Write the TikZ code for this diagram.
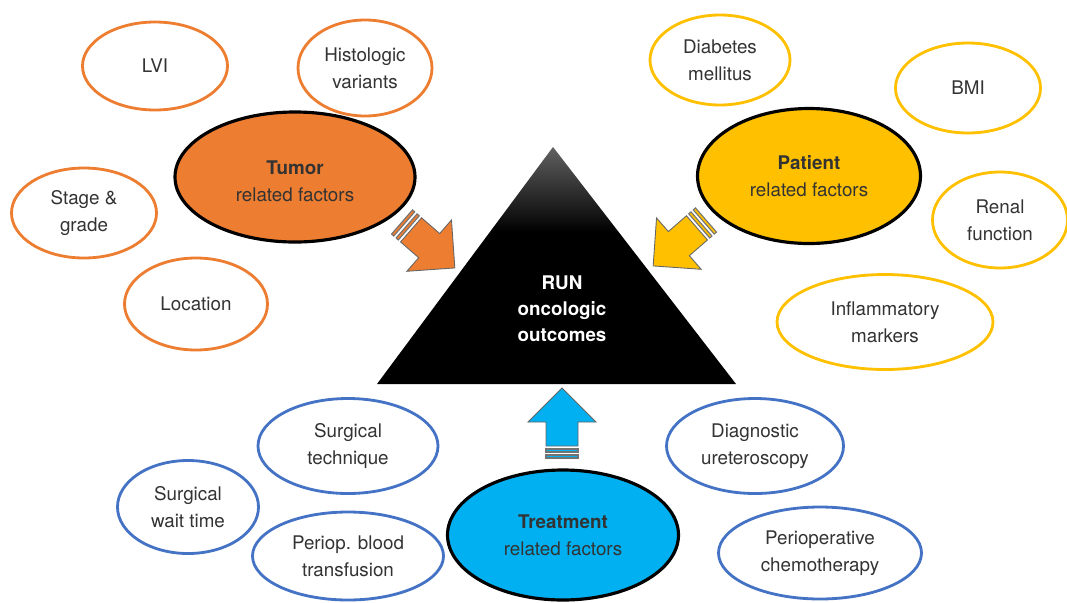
\documentclass[tikz,border=0pt]{standalone}
\usepackage{fontspec}
\setmainfont{TeX Gyre Heros}
\usepackage{tikz}
\usetikzlibrary{shapes.geometric}

\definecolor{tumorc}{HTML}{ED7D31}
\definecolor{patientc}{HTML}{FFC000}
\definecolor{treatc}{HTML}{00B0F0}
\definecolor{treatline}{HTML}{4472C4}
\definecolor{txtc}{HTML}{333333}

% dark at the bottom, fading to grey only near the apex
\pgfdeclareverticalshading{pyramid}{100bp}{color(0bp)=(black); color(25bp)=(black);
  color(57bp)=(black); color(75bp)=(black!62); color(100bp)=(black!62)}

% fat block arrow with striped tail: #1 tail point, #2 angle, #3 colour
\newcommand\blockarrow[3]{%
  \begin{scope}[shift={#1}, rotate=#2]
    \filldraw[fill=#3, draw=black!60, line width=0.5pt]
      (12,-16) -- (36,-16) -- (36,-34) -- (70,0) -- (36,34) -- (36,16) -- (12,16) -- cycle;
    \filldraw[fill=#3, draw=black!55, line width=0.6pt] (0,-16) rectangle (3,16);
    \filldraw[fill=#3, draw=black!55, line width=0.6pt] (6,-16) rectangle (9,16);
  \end{scope}}

\begin{document}
\begin{tikzpicture}[
  x=0.02cm, y=-0.02cm,
  font=\fontsize{10.7}{15.3}\selectfont,
  dims/.style 2 args={minimum width=#1*0.02cm, minimum height=#2*0.02cm},
  factor/.style={ellipse, draw, line width=1.6pt, fill=white, text=txtc, align=center, inner sep=0pt},
  tumorf/.style={factor, draw=tumorc},
  patientf/.style={factor, draw=patientc},
  treatf/.style={factor, draw=treatline},
  group/.style={ellipse, draw=black, line width=1.8pt, text=txtc, align=center, inner sep=0pt},
]
\useasboundingbox (0,0) rectangle (1067,602);

% Outcome pyramid
\shade[shading=pyramid] (553,147) -- (736,384) -- (377,384) -- cycle;
\node[text=white, font=\fontsize{10.7}{14.8}\selectfont\bfseries, align=center] (run) at (562,309)
  {RUN\\oncologic\\outcomes};

% Tumor related factors
\node[group, fill=tumorc, dims={240}{130}] (tumor) at (295,177) {};
\node[text=txtc, align=center] (tumorlbl) at (295,181) {\textbf{Tumor}\\related factors};
\node[tumorf, dims={145}{88}] (lvi) at (155,66) {LVI};
\node[tumorf, dims={134}{96}] (histo) at (365,68) {Histologic\\variants};
\node[tumorf, dims={145}{90}] (stage) at (84,213) {Stage \&\\grade};
\node[tumorf, dims={143}{92}] (loc) at (196,304) {Location};

% Patient related factors
\node[group, fill=patientc, dims={223}{135}] (patient) at (809,176) {\textbf{Patient}\\related factors};
\node[patientf, dims={140}{90}] (diab) at (720,60) {Diabetes\\mellitus};
\node[patientf, dims={145}{90}] (bmi) at (968,88) {BMI};
\node[patientf, dims={135}{96}] (renal) at (1000,220) {Renal\\function};
\node[patientf, dims={216}{95}] (infl) at (885,322) {Inflammatory\\markers};

% Treatment related factors
\node[group, fill=treatc, dims={231}{130}] (treat) at (563,535) {\textbf{Treatment}\\related factors};
\node[treatf, dims={180}{95}] (tech) at (348,446) {Surgical\\technique};
\node[treatf, dims={177}{95}] (urs) at (755,446) {Diagnostic\\ureteroscopy};
\node[treatf, dims={141}{93}] (wait) at (188,507) {Surgical\\wait time};
\node[treatf, dims={191}{88}] (blood) at (348,556) {Periop. blood\\transfusion};
\node[treatf, dims={203}{92}] (chemo) at (820,553) {Perioperative\\chemotherapy};

% Arrows into the pyramid
\blockarrow{(402,222)}{-41}{tumorc}
\blockarrow{(706,220)}{-139}{patientc}
\blockarrow{(562,458)}{90}{treatc}
\end{tikzpicture}
\end{document}
